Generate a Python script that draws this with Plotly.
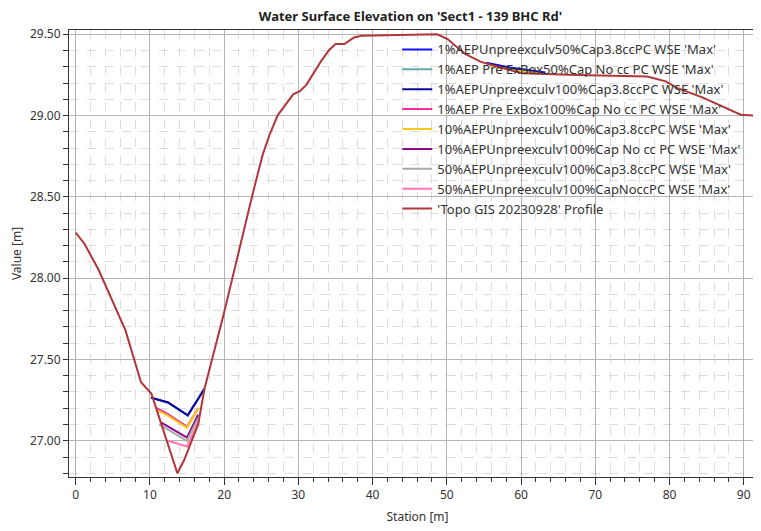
import plotly.graph_objects as go

# ---------------- data ----------------
topo_station = [0, 1.2, 3.1, 4.9, 6.7, 8.8, 10.2, 13.7, 14.6, 16.5, 17.35, 19.9, 21.5, 22.6,
                23.8, 25.2, 26.1, 27.2, 29.3, 30.2, 31.1, 33.0, 34.1, 35.0, 36.2, 37.5, 38.5,
                48.7, 50.1, 52.4, 54.6, 56.9, 60.1, 67.5, 77.0, 79.5, 81.0, 84.5, 87.5, 89.6, 91.6]
topo_elev = [28.28, 28.21, 28.05, 27.87, 27.68, 27.36, 27.29, 26.80, 26.88, 27.10, 27.32, 27.77, 28.08, 28.28,
             28.51, 28.76, 28.88, 29.00, 29.13, 29.15, 29.19, 29.33, 29.40, 29.44, 29.44, 29.48, 29.49,
             29.50, 29.47, 29.38, 29.33, 29.30, 29.26, 29.25, 29.24, 29.21, 29.17, 29.11, 29.05, 29.005, 29.00]

# WSE series (None separates the two wetted reaches)
s_blue50 = [10.14, 12.43, 15.1, 17.35, None, 55.3, 58.5, 63.3]
v_blue50 = [27.265, 27.235, 27.156, 27.32, None, 29.325, 29.295, 29.265]

s_teal = [10.83, 12.2, 15.0, 16.5]
v_teal = [27.20, 27.17, 27.085, 27.20]

s_navy = [10.14, 12.43, 15.1, 17.35, None, 55.5, 58.5, 63.0]
v_navy = [27.265, 27.235, 27.156, 27.32, None, 29.318, 29.29, 29.262]

s_pink = [10.83, 12.2, 15.0, 16.5]
v_pink = [27.20, 27.17, 27.085, 27.20]

s_gold = [10.83, 12.2, 15.0, 16.5, None, 56.0, 59.0, 62.5]
v_gold = [27.19, 27.16, 27.08, 27.20, None, 29.305, 29.278, 29.258]

s_purple = [11.42, 15.0, 16.5]
v_purple = [27.115, 27.02, 27.16]

s_gray = [11.24, 15.0, 16.5]
v_gray = [27.10, 27.00, 27.14]

s_lpink = [12.43, 15.0, 16.6]
v_lpink = [27.00, 26.965, 27.12]

names = [
    "1%AEPUnpreexculv50%Cap3.8ccPC WSE 'Max'",
    "1%AEP Pre ExBox50%Cap No cc PC WSE 'Max'",
    "1%AEPUnpreexculv100%Cap3.8ccPC WSE 'Max'",
    "1%AEP Pre ExBox100%Cap No cc PC WSE 'Max'",
    "10%AEPUnpreexculv100%Cap3.8ccPC WSE 'Max'",
    "10%AEPUnpreexculv100%Cap No cc PC WSE 'Max'",
    "50%AEPUnpreexculv100%Cap3.8ccPC WSE 'Max'",
    "50%AEPUnpreexculv100%CapNoccPC WSE 'Max'",
    "'Topo GIS 20230928' Profile",
]
colors = ["#1414FF", "#5FAAA8", "#0A0A96", "#FF2B9A", "#FFC814", "#8A0A8A", "#A8A8A8", "#FF78B4", "#B0363A"]

series = [(s_blue50, v_blue50), (s_teal, v_teal), (s_navy, v_navy), (s_pink, v_pink),
          (s_gold, v_gold), (s_purple, v_purple), (s_gray, v_gray), (s_lpink, v_lpink),
          (topo_station, topo_elev)]

FONT = "Noto Sans"

fig = go.Figure()
for (sx, sy), nm, c in zip(series, names, colors):
    fig.add_trace(go.Scatter(x=sx, y=sy, mode="lines", name=nm,
                             line=dict(color=c, width=2), connectgaps=False))

fig.update_layout(
    width=761, height=531,
    margin=dict(l=61, r=3, t=22, b=62),
    paper_bgcolor="white", plot_bgcolor="white",
    font=dict(family=FONT, size=12, color="#333333"),
    title=dict(text="<b>Water Surface Elevation on 'Sect1 - 139 BHC Rd'</b>",
               x=0.49, xref="paper", xanchor="center", y=1 - 8 / 531, yref="container",
               yanchor="middle",
               font=dict(family=FONT, size=13, color="#222222")),
    showlegend=True,
    legend=dict(x=0.471, y=0.99, xanchor="left", yanchor="top",
                bgcolor="rgba(0,0,0,0)", borderwidth=0,
                font=dict(family=FONT, size=13, color="#333333"),
                tracegroupgap=0, itemwidth=30),
)

fig.update_xaxes(
    range=[-0.9, 93.0], title=dict(text="Station [m]", standoff=10, font=dict(size=12)),
    tick0=0, dtick=10, ticks="outside", ticklen=7, tickcolor="#333333",
    showline=True, linecolor="#333333", linewidth=1, mirror=True,
    showgrid=True, gridcolor="#B4B4B4", gridwidth=1, zeroline=False,
    minor=dict(dtick=2, tick0=0, ticks="outside", ticklen=4, tickcolor="#333333",
               showgrid=True, gridcolor="#DCDCDC", griddash="dash", gridwidth=1),
    tickfont=dict(size=12, color="#333333"),
)
fig.update_yaxes(
    range=[26.777, 29.526], title=dict(text="Value [m]", standoff=6, font=dict(size=12)),
    tick0=27, dtick=0.5, tickformat=".2f", ticks="outside", ticklen=5, tickcolor="#333333",
    showline=True, linecolor="#333333", linewidth=1, mirror=True,
    showgrid=True, gridcolor="#B4B4B4", gridwidth=1, zeroline=False,
    minor=dict(dtick=0.1, tick0=27, ticks="outside", ticklen=5, tickcolor="#333333",
               showgrid=True, gridcolor="#DCDCDC", griddash="dash", gridwidth=1),
    tickfont=dict(size=12, color="#333333"),
)

fig.write_html("out.html")
